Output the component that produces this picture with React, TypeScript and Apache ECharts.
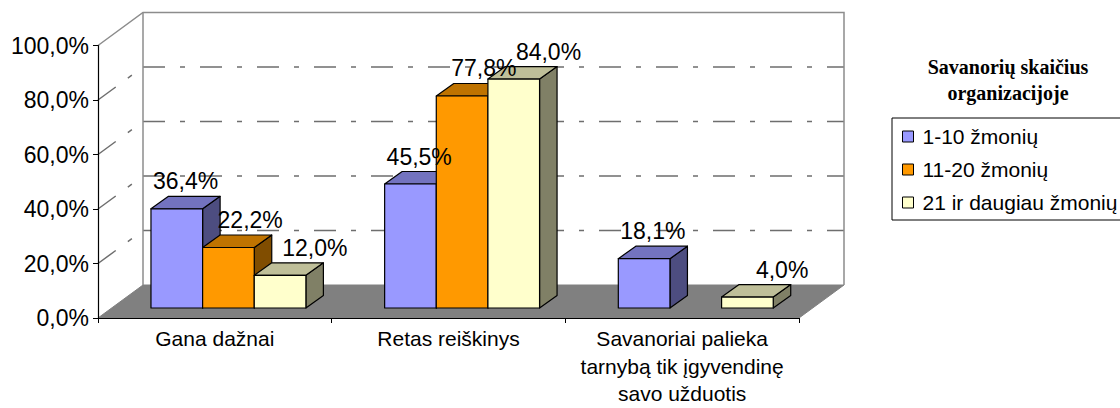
import React, { useEffect, useRef } from "react";
import * as echarts from "echarts";

const CATEGORIES = [
  "Gana dažnai",
  "Retas reiškinys",
  "Savanoriai palieka\ntarnybą tik įgyvendinę\nsavo užduotis",
];
const SERIES_NAMES = ["1-10 žmonių", "11-20 žmonių", "21 ir daugiau žmonių"];
const GROUP_1_10: (number | null)[] = [36.4, 45.5, 18.1];
const GROUP_11_20: (number | null)[] = [22.2, 77.8, null];
const GROUP_21_PLUS: (number | null)[] = [12.0, 84.0, 4.0];
const Y_TICKS = [0, 20, 40, 60, 80, 100];
const LEGEND_TITLE = "Savanorių skaičius\norganizacijoje";

const FRONT = ["#9999FF", "#FF9900", "#FFFFCC"];
const TOP = ["#7373BF", "#BF7300", "#BFBF99"];
const SIDE = ["#4D4D80", "#804D00", "#808066"];

// oblique projection offsets (pixels)
const WALL_DX = 45;
const WALL_DY = -33;
const BAR_FX = 13.6;
const BAR_FY = -10;
const BAR_DX = 17.5;
const BAR_DY = -12.5;
const BAR_FRAC = 0.221;

const FONT = "'Liberation Sans', Arial, sans-serif";

const fmt = (v: number) => v.toFixed(1).replace(".", ",") + "%";

export default function App() {
  const ref = useRef<HTMLDivElement>(null);

  useEffect(() => {
    if (!ref.current) return;
    const chart = echarts.init(ref.current, null, { renderer: "svg" });
    const groups = [GROUP_1_10, GROUP_11_20, GROUP_21_PLUS];

    const toData = (arr: (number | null)[]) =>
      arr
        .map((v, i) => (v == null ? null : [i, v]))
        .filter((d) => d !== null) as number[][];

    const barGeom = (gi: number, api: any) => {
      const cat = api.value(0);
      const v = api.value(1);
      const base = api.coord([cat, 0]);
      const top = api.coord([cat, v]);
      const catW = api.size([1, 0])[0];
      const bw = catW * BAR_FRAC;
      const x0 = base[0] - 1.5 * bw + gi * bw + BAR_FX;
      const yb = base[1] + BAR_FY;
      const yt = top[1] + BAR_FY;
      return { x0, yb, yt, bw, v };
    };

    const barSeries = groups.map((arr, gi) => ({
      type: "custom",
      name: SERIES_NAMES[gi],
      z: 2,
      itemStyle: { color: FRONT[gi], borderColor: "#000", borderWidth: 1 },
      encode: { x: 0, y: 1 },
      data: toData(arr),
      renderItem: (params: any, api: any) => {
        const { x0, yb, yt, bw } = barGeom(gi, api);
        const line = { stroke: "#000", lineWidth: 1.2, lineJoin: "round" };
        return {
          type: "group",
          children: [
            {
              type: "polygon",
              shape: {
                points: [
                  [x0 + bw, yt],
                  [x0 + bw + BAR_DX, yt + BAR_DY],
                  [x0 + bw + BAR_DX, yb + BAR_DY],
                  [x0 + bw, yb],
                ],
              },
              style: { fill: SIDE[gi], ...line },
            },
            {
              type: "polygon",
              shape: {
                points: [
                  [x0, yt],
                  [x0 + bw, yt],
                  [x0 + bw + BAR_DX, yt + BAR_DY],
                  [x0 + BAR_DX, yt + BAR_DY],
                ],
              },
              style: { fill: TOP[gi], ...line },
            },
            {
              type: "rect",
              shape: { x: x0, y: yt, width: bw, height: yb - yt },
              style: { fill: FRONT[gi], ...line },
            },
          ],
        };
      },
    }));

    const labelSeries = groups.map((arr, gi) => ({
      type: "custom",
      name: "label" + gi,
      z: 5,
      silent: true,
      encode: { x: 0, y: 1 },
      data: toData(arr),
      renderItem: (params: any, api: any) => {
        const { x0, yt, bw, v } = barGeom(gi, api);
        return {
          type: "text",
          style: {
            text: fmt(v),
            x: x0 + bw / 2 + BAR_DX / 2 + gi * 13,
            y: yt + BAR_DY - 15,
            align: "center",
            verticalAlign: "middle",
            fill: "#000",
            font: `23px ${FONT}`,
          },
        };
      },
    }));

    const frameSeries = {
      type: "custom",
      name: "frame",
      z: 1,
      silent: true,
      encode: { x: 0, y: 1 },
      data: Y_TICKS.map((t) => [0, t]),
      renderItem: (params: any, api: any) => {
        const cs = params.coordSys;
        const L = cs.x;
        const R = cs.x + cs.width;
        const t = api.value(1);
        const y = api.coord([0, t])[1];
        const y0 = api.coord([0, Y_TICKS[0]])[1];
        const border = { stroke: "#8c8c8c", lineWidth: 1.5 };
        const dash = { stroke: "#6e6e6e", lineWidth: 1.5, lineDash: [22, 15, 5, 15] };
        if (t === Y_TICKS[0]) {
          return {
            type: "polygon",
            shape: {
              points: [
                [L, y],
                [R, y],
                [R + WALL_DX, y + WALL_DY],
                [L + WALL_DX, y + WALL_DY],
              ],
            },
            style: { fill: "#808080", stroke: "#808080", lineWidth: 1 },
          };
        }
        if (t === Y_TICKS[Y_TICKS.length - 1]) {
          return {
            type: "group",
            children: [
              {
                type: "polyline",
                shape: {
                  points: [
                    [L, y],
                    [L + WALL_DX, y + WALL_DY],
                    [R + WALL_DX, y + WALL_DY],
                    [R + WALL_DX, y0 + WALL_DY],
                  ],
                },
                style: { fill: "none", ...border },
              },
              {
                type: "line",
                shape: { x1: L + WALL_DX, y1: y + WALL_DY, x2: L + WALL_DX, y2: y0 + WALL_DY },
                style: border,
              },
            ],
          };
        }
        return {
          type: "group",
          children: [
            {
              type: "line",
              shape: { x1: L, y1: y, x2: L + WALL_DX, y2: y + WALL_DY },
              style: dash,
            },
            {
              type: "line",
              shape: { x1: L + WALL_DX, y1: y + WALL_DY, x2: R + WALL_DX, y2: y + WALL_DY },
              style: dash,
            },
          ],
        };
      },
    };

    chart.setOption({
      animation: false,
      backgroundColor: "#ffffff",
      grid: {
        left: 98,
        top: 45.5,
        width: 701,
        height: 272.5,
        containLabel: false,
        outerBoundsMode: "none",
      },
      xAxis: {
        type: "category",
        data: CATEGORIES,
        z: 6,
        axisLine: { lineStyle: { color: "#000", width: 1.2 } },
        axisTick: { show: true, length: 5, lineStyle: { color: "#000" } },
        axisLabel: {
          color: "#000",
          fontFamily: FONT,
          fontSize: 21,
          lineHeight: 27.5,
          margin: 7,
          interval: 0,
        },
        splitLine: { show: false },
      },
      yAxis: {
        type: "value",
        min: 0,
        max: 100,
        interval: 20,
        z: 6,
        axisLine: { show: true, lineStyle: { color: "#000", width: 1.2 } },
        axisTick: { show: true, length: 5, lineStyle: { color: "#000" } },
        axisLabel: {
          color: "#000",
          fontFamily: FONT,
          fontSize: 23,
          margin: 9,
          formatter: (v: number) => fmt(v),
        },
        splitLine: { show: false },
      },
      legend: {
        data: SERIES_NAMES,
        orient: "vertical",
        left: 892,
        top: 118,
        padding: [8, 10, 7, 10],
        itemGap: 12,
        itemWidth: 11,
        itemHeight: 11,
        icon: "rect",
        borderColor: "#000",
        borderWidth: 1,
        selectedMode: false,
        itemStyle: { borderColor: "#000", borderWidth: 1 },
        textStyle: { color: "#000", fontFamily: FONT, fontSize: 21, padding: [0, 0, 0, 4] },
      },
      graphic: [
        {
          type: "text",
          x: 1008,
          y: 54,
          style: {
            text: LEGEND_TITLE,
            align: "center",
            verticalAlign: "top",
            fill: "#000",
            font: "bold 20px 'Liberation Serif', 'Times New Roman', serif",
            lineHeight: 26,
          },
        },
      ],
      series: [frameSeries, ...barSeries, ...labelSeries],
    });

    return () => chart.dispose();
  }, []);

  return (
    <div
      ref={ref}
      style={{ position: "absolute", left: 0, top: 0, width: 1120, height: 408 }}
    />
  );
}
